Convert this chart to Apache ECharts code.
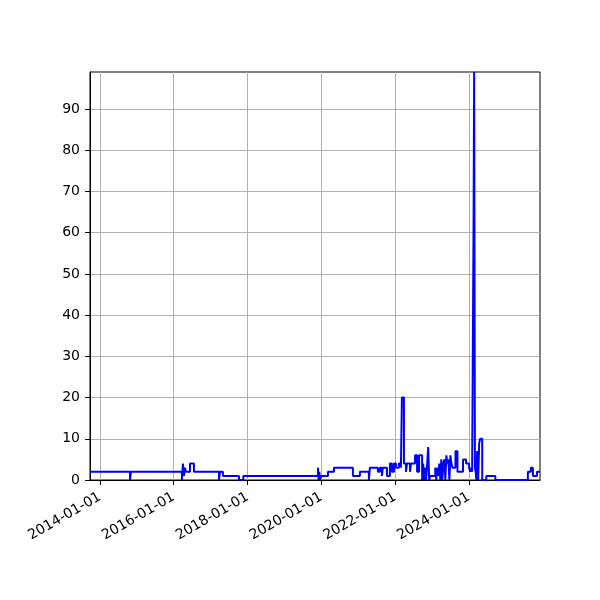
<!DOCTYPE html>
<html><head><meta charset="utf-8">
<script src="https://cdn.jsdelivr.net/npm/echarts@6/dist/echarts.min.js"></script>
<style>html,body{margin:0;padding:0;background:#fff}#c{width:600px;height:600px}</style>
</head><body><div id="c"></div>
<script>
const dates = ['2013-09-24','2014-10-25','2014-11-04','2016-03-22','2016-04-01','2016-04-11','2016-04-21','2016-05-01','2016-06-10','2016-07-19',
'2017-03-24','2017-04-03','2017-05-02','2017-10-08','2017-11-20','2019-11-29','2019-12-05','2019-12-12','2019-12-20','2019-12-29',
'2020-03-07','2020-05-05','2020-11-09','2021-01-17','2021-04-16','2021-04-26','2021-07-14','2021-08-03','2021-08-23','2021-09-02',
'2021-10-12','2021-11-10','2021-11-30','2021-12-20','2022-01-09','2022-02-07','2022-02-27','2022-03-09','2022-03-29','2022-04-18',
'2022-04-28','2022-05-28','2022-06-07','2022-07-17','2022-08-06','2022-08-26','2022-09-25','2022-10-05','2022-10-15','2022-10-25',
'2022-11-04','2022-11-14','2022-11-24','2022-12-04','2022-12-14','2023-02-02','2023-02-12','2023-02-22','2023-03-04','2023-03-14',
'2023-03-24','2023-04-03','2023-04-13','2023-04-23','2023-05-03','2023-05-13','2023-05-23','2023-06-02','2023-06-12','2023-06-22',
'2023-07-02','2023-07-12','2023-07-22','2023-08-21','2023-09-10','2023-11-04','2023-12-04','2024-01-03','2024-01-13','2024-01-23',
'2024-02-02','2024-02-17','2024-02-22','2024-03-01','2024-03-08','2024-03-15','2024-03-23','2024-04-02','2024-04-12','2024-04-22',
'2024-05-12','2024-06-21','2024-09-19','2025-08-07','2025-09-06','2025-09-26','2025-11-05','2025-12-05'];
const values = [2,0,2,0,4,1,3,2,4,2,
0,2,1,0,1,3,0,2,0,1,
2,3,1,2,0,3,2,3,1,3,
1,4,2,4,3,4,3,20,4,2,
4,2,4,6,2,6,0,4,0,3,
0,4,8,0,1,3,0,3,1,4,
0,5,0,4,5,0,6,4,5,0,
6,4,3,7,2,5,4,3,2,3,
2,65,99,3,2,0,7,0,9,10,
0,1,0,2,3,1,2,2];
const xTickLabels = ['2014-01-01','2016-01-01','2018-01-01','2020-01-01','2022-01-01','2024-01-01'];
const yTicks = [0,10,20,30,40,50,60,70,80,90];
const xRange = ['2013-09-24','2025-12-05'];
const yRange = [0, 99];

function ts(s){const p=s.split('-').map(Number);return Date.UTC(p[0],p[1]-1,p[2]);}
function pad(n){return (n<10?'0':'')+n;}
function fmt(v){const d=new Date(v);return d.getUTCFullYear()+'-'+pad(d.getUTCMonth()+1)+'-'+pad(d.getUTCDate());}

const chart = echarts.init(document.getElementById('c'), null, {renderer:'canvas'});
const font = 'DejaVu Sans';
chart.setOption({
  animation:false,
  backgroundColor:'#fff',
  grid:{left:90,right:60,top:72,bottom:120,show:true,borderColor:'#000',borderWidth:1,backgroundColor:'transparent'},
  xAxis:{
    type:'value', min:ts(xRange[0]), max:ts(xRange[1]), scale:true,
    axisLine:{show:true,onZero:false,lineStyle:{color:'#000',width:1}},
    axisTick:{show:true,length:5,lineStyle:{color:'#000',width:1},customValues:xTickLabels.map(ts)},
    axisLabel:{show:true,rotate:30,fontSize:14,fontFamily:font,color:'#000',margin:16,
      customValues:xTickLabels.map(ts),formatter:function(v){return fmt(v);}},
    splitLine:{show:true,lineStyle:{color:'#b0b0b0',width:1}}
  },
  yAxis:{
    type:'value', min:yRange[0], max:yRange[1],
    axisLine:{show:true,lineStyle:{color:'#000',width:1}},
    axisTick:{show:true,length:5,lineStyle:{color:'#000',width:1},customValues:yTicks},
    axisLabel:{show:true,fontSize:14,fontFamily:font,color:'#000',margin:10,customValues:yTicks},
    splitLine:{show:true,lineStyle:{color:'#b0b0b0',width:1}}
  },
  series:[{
    type:'line', step:'end', showSymbol:false, symbol:'none', clip:false,
    lineStyle:{color:'#0000ff',width:2}, itemStyle:{color:'#0000ff'},
    data: dates.map((d,i)=>[ts(d),values[i]])
  }]
});
</script></body></html>
